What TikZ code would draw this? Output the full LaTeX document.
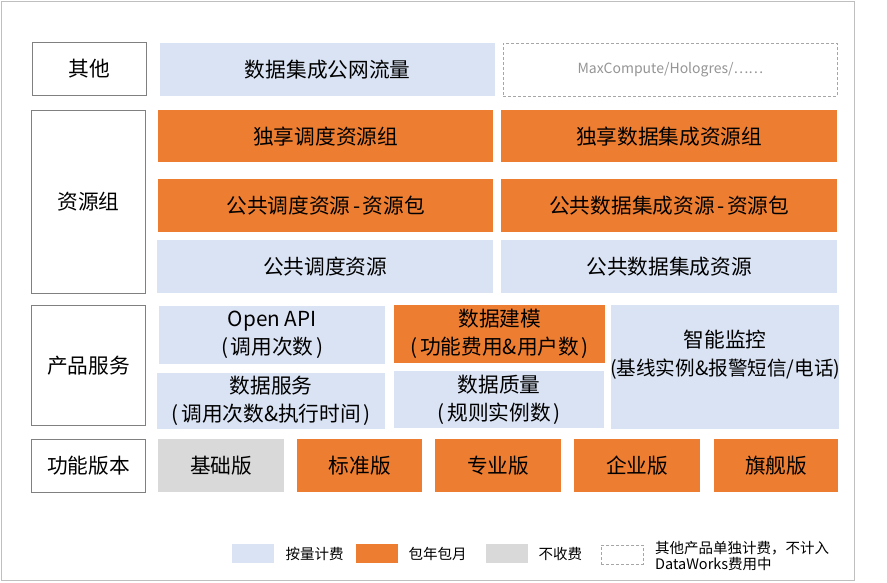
\documentclass[tikz,border=0pt]{standalone}
\usepackage{fontspec}
\setmainfont{Noto Sans CJK SC}
\definecolor{blueF}{HTML}{DAE3F3}
\definecolor{orangeF}{HTML}{ED7D31}
\definecolor{grayF}{HTML}{D9D9D9}
\definecolor{labelLine}{HTML}{808080}
\definecolor{dashLine}{HTML}{A6A6A6}
\definecolor{frameLine}{HTML}{BFBFBF}
\definecolor{mcText}{HTML}{959595}
\newcommand\bx[7]{\node[#1, minimum width={(#5-#3)*1pt}, minimum height={(#6-#4)*1pt}] (#2) at (#3,#4) {#7};}
\newcommand\lpar{(\kern2.5pt}
\newcommand\rpar{\kern2.5pt)}
\newcommand\hy{\kern2.5pt-\kern2.5pt}
\begin{document}
\begin{tikzpicture}[x=1pt,y=-1pt,
  cell/.style={anchor=north west, inner sep=0pt, align=center, font=\fontsize{20.7}{28}\selectfont, text=black},
  bluec/.style={cell, fill=blueF},
  orangec/.style={cell, fill=orangeF},
  grayc/.style={cell, fill=grayF},
  labelc/.style={cell, draw=labelLine, line width=1pt, fill=white},
  dashc/.style={cell, draw=dashLine, line width=0.9pt, dash pattern=on 3pt off 2pt, fill=white},
  swatch/.style={anchor=north west, inner sep=0pt},
  legtext/.style={anchor=west, inner sep=0pt, align=left, font=\fontsize{14.5}{16}\selectfont, text=black}]
\useasboundingbox (0,0) rectangle (887,582);
\draw[frameLine, line width=1pt] (1,1) rectangle (854,580);
% left labels
\bx{labelc}{other}{32}{42}{146}{95}{其他}
\bx{labelc}{rg}{31}{110}{145}{293}{资源组}
\bx{labelc}{ps}{31}{305}{145}{425}{产品服务}
\bx{labelc}{fv}{31}{439}{145}{492}{功能版本}
% row: other
\bx{bluec}{net}{160}{43}{495}{96}{数据集成公网流量}
\bx{dashc}{mc}{503}{43}{837}{96}{\fontsize{14}{16}\selectfont\color{mcText}MaxCompute/Hologres/……}
% resource groups
\bx{orangec}{ex1}{158}{110}{493}{162}{独享调度资源组}
\bx{orangec}{ex2}{501}{110}{837}{162}{独享数据集成资源组}
\bx{orangec}{pk1}{158}{179}{493}{232}{公共调度资源\hy 资源包}
\bx{orangec}{pk2}{501}{179}{837}{232}{公共数据集成资源\hy 资源包}
\bx{bluec}{pub1}{157}{240}{493}{293}{公共调度资源}
\bx{bluec}{pub2}{501}{240}{837}{293}{公共数据集成资源}
% product services
\bx{bluec}{api}{159}{306}{385}{364}{Open API\\\lpar 调用次数\rpar}
\bx{bluec}{ds}{157}{373}{385}{429}{数据服务\\\lpar 调用次数\&执行时间\rpar}
\bx{orangec}{dm}{394}{305}{605}{363}{数据建模\\\lpar 功能费用\&用户数\rpar}
\bx{bluec}{dq}{394}{371}{604}{428}{数据质量\\\lpar 规则实例数\rpar}
\bx{bluec}{mon}{611}{305}{839}{429}{}
\node[inner sep=0pt, align=center, font=\fontsize{19.6}{28}\selectfont] (montext) at ([yshift=13pt]mon.center) {\fontsize{20.7}{28}\selectfont 智能监控\\(基线实例\&报警短信/电话)};
% versions
\bx{grayc}{v1}{158}{439}{284}{492}{基础版}
\bx{orangec}{v2}{297}{439}{422}{492}{标准版}
\bx{orangec}{v3}{435}{439}{561}{492}{专业版}
\bx{orangec}{v4}{574}{439}{700}{492}{企业版}
\bx{orangec}{v5}{714}{439}{838}{492}{旗舰版}
% legend
\bx{swatch, fill=blueF}{lg1}{232}{544}{274}{563}{}
\bx{swatch, fill=orangeF}{lg2}{356}{544}{398}{563}{}
\bx{swatch, fill=grayF}{lg3}{486}{544}{528}{563}{}
\bx{swatch, draw=dashLine, line width=0.9pt, dash pattern=on 3pt off 2pt}{lg4}{601}{545}{643}{564}{}
\node[legtext] (lt1) at ([xshift=11pt]lg1.east) {按量计费};
\node[legtext] (lt2) at ([xshift=10pt]lg2.east) {包年包月};
\node[legtext] (lt3) at ([xshift=10pt]lg3.east) {不收费};
\node[legtext] (lt4) at ([xshift=11pt,yshift=-1pt]lg4.east) {其他产品单独计费，不计入\\DataWorks费用中};
\end{tikzpicture}
\end{document}
